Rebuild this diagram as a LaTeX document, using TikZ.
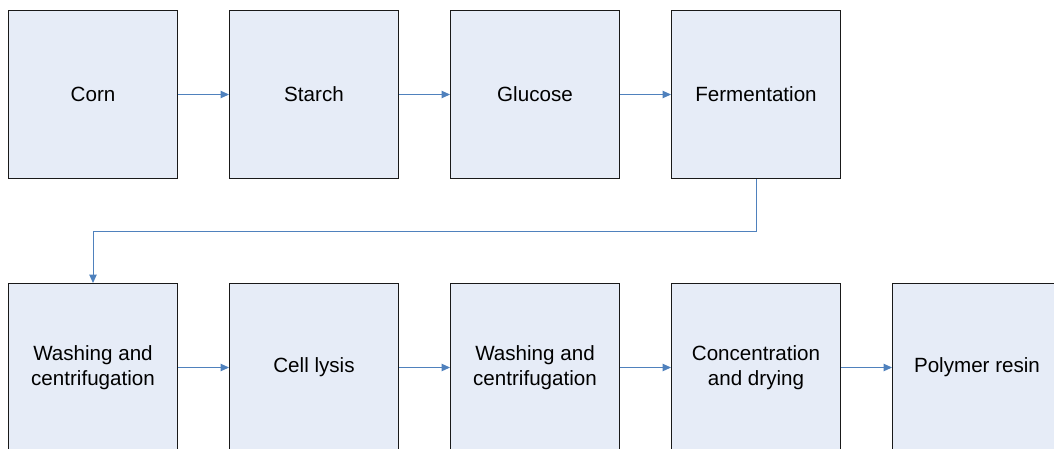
\documentclass[tikz,border=0pt]{standalone}
\usepackage{fontspec}
\setmainfont{Liberation Sans}
\usetikzlibrary{arrows.meta}
\definecolor{boxfill}{HTML}{E6ECF7}
\definecolor{flowblue}{HTML}{4F81BD}
\begin{document}
\begin{tikzpicture}[x=1pt,y=-1pt,
  stage/.style={draw=black!90, line width=1pt, fill=boxfill,
    minimum width=169pt, minimum height=168pt, inner sep=0pt,
    align=center, font=\fontsize{20.6pt}{25pt}\selectfont, anchor=north west},
  flow/.style={draw=flowblue, line width=1pt,
    -{Triangle[length=8.5pt,width=7.5pt]}}]
\useasboundingbox (0,0) rectangle (1054,448);
\clip (0,0) rectangle (1054,448);
% upper row
\node[stage] (corn)   at (8,10)   {Corn};
\node[stage] (starch) at (229,10) {Starch};
\node[stage] (gluc)   at (450,10) {Glucose};
\node[stage] (ferm)   at (671,10) {Fermentation};
% lower row
\node[stage] (wash1)  at (8,283)   {Washing and\\centrifugation};
\node[stage] (lysis)  at (229,283) {Cell lysis};
\node[stage] (wash2)  at (450,283) {Washing and\\centrifugation};
\node[stage] (conc)   at (671,283) {Concentration\\and drying};
\node[stage] (resin)  at (892,283) {Polymer resin};
% connectors
\draw[flow] (corn.east) -- (starch.west);
\draw[flow] (starch.east) -- (gluc.west);
\draw[flow] (gluc.east) -- (ferm.west);
\draw[flow] (ferm.south) -- ++(0,52) -| (wash1.north);
\draw[flow] (wash1.east) -- (lysis.west);
\draw[flow] (lysis.east) -- (wash2.west);
\draw[flow] (wash2.east) -- (conc.west);
\draw[flow] (conc.east) -- (resin.west);
\end{tikzpicture}
\end{document}
